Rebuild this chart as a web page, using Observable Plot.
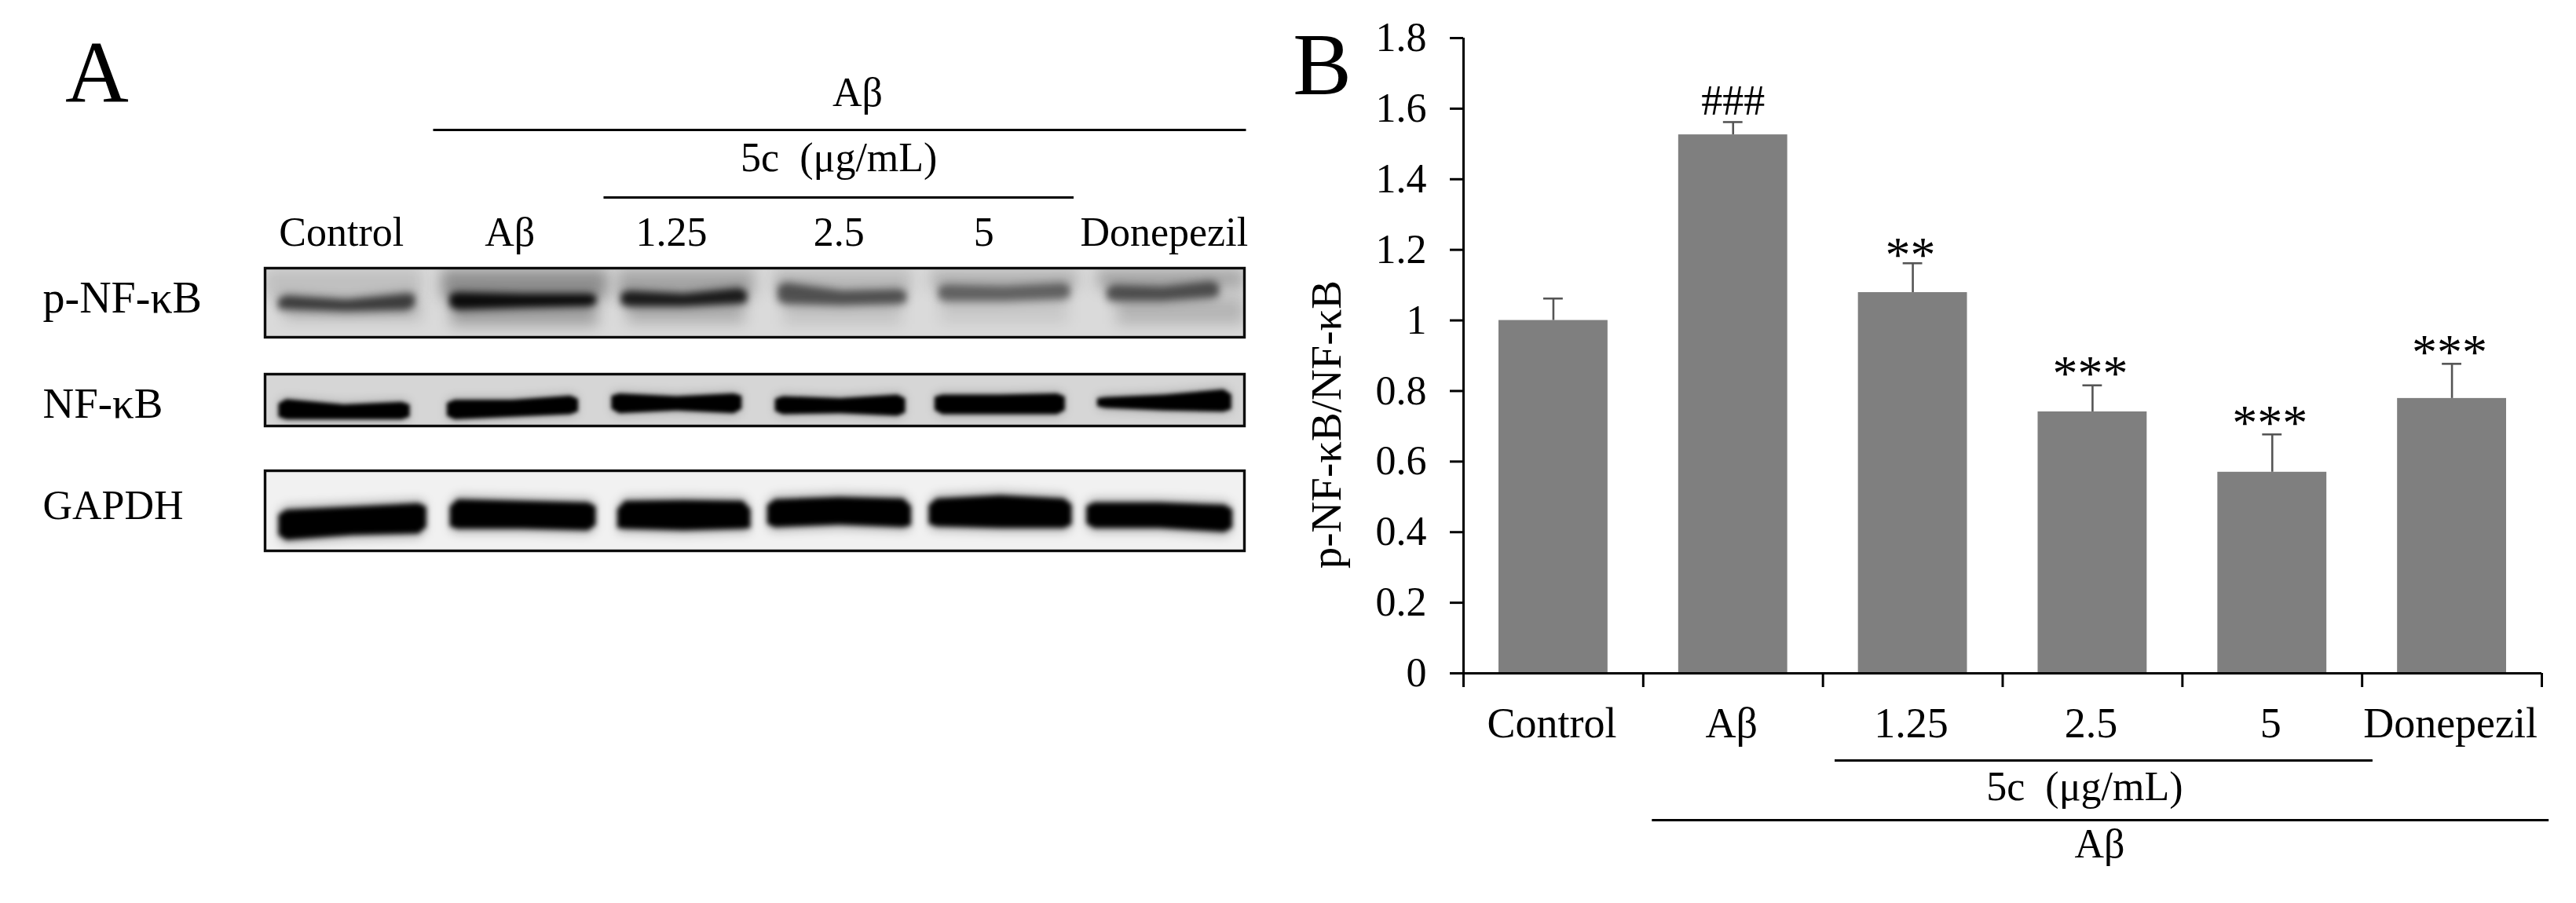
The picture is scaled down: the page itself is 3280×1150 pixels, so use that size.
<!DOCTYPE html>
<html>
<head>
<meta charset="utf-8">
<script src="https://cdn.jsdelivr.net/npm/d3@7"></script>
<script src="https://cdn.jsdelivr.net/npm/@observablehq/plot@0.6"></script>
<style>
html,body{margin:0;padding:0;background:#fff;overflow:hidden}
#page{position:relative;width:3280px;height:1150px;overflow:hidden}
</style>
</head>
<body>
<div id="page"></div>
<script>
// ---------- Panel B values ----------
const categories = ["Control", "Aβ", "1.25", "2.5", "5", "Donepezil"];
const ratioValues = [1.0, 1.526, 1.079, 0.741, 0.57, 0.779];
const errorTops = [1.062, 1.562, 1.162, 0.816, 0.677, 0.877];
const significance = ["", "###", "**", "***", "***", "***"];
const yTicks = [0, 0.2, 0.4, 0.6, 0.8, 1, 1.2, 1.4, 1.6, 1.8];

// ---------- Panel A lanes (percent of gel width) ----------
const laneCentres = [7.8, 25, 41.5, 58.6, 73.4, 91.8];

// p-NF-κB bands (percent of the gel box)
const pStart = [1.4, 18.9, 36.4, 52.4, 68.8, 86];
const pEnd = [15.3, 33.8, 49.2, 65.5, 82.2, 97.4];
const pTop = [[50,43,49,40,42],[43,38,40,40,44],[42,36,40,32,40],[32,25,36,34,38],[33,28,30,26,32],[35,28,30,23,28]];
const pBottom = [[54,57,60,58,52],[51,58,55,53,48],[47,53,53,49,44],[42,49,51,49,46],[40,45,45,42,36],[40,45,45,40,36]];
const pDark = [0.58, 0.9, 0.8, 0.46, 0.34, 0.46];
// diffuse smears around the p-NF-κB bands: x1, x2, y1, y2, strength
const pSmear = [
  [0,16,2,45,0.12],[18,35,2,45,0.34],[36,50,2,42,0.24],[52,66,2,36,0.14],[68,83,2,32,0.17],[85,100,2,30,0.24],
  [2,16,50,76,0.14],[19,34,50,84,0.26],[37,49,48,80,0.2],[53,65,46,82,0.1],[69,82,42,80,0.08],[87,100,42,82,0.17]
];

// NF-κB bands
const nfStart = [1.4, 18.6, 35.4, 52.1, 68.4, 85];
const nfEnd = [14.8, 32, 48.7, 65.4, 81.7, 98.7];
const nfTop = [[68,52,62,57,68],[66,53,53,45,58],[53,41,46,41,53],[58,46,50,43,60],[55,43,43,41,55],[53,48,43,33,50]];
const nfBottom = [[72,85,85,85,74],[71,85,80,75,63],[57,73,68,73,57],[62,75,73,78,62],[59,75,75,75,59],[57,63,68,70,58]];

// GAPDH bands
const gStart = [1.4, 18.9, 36, 51.3, 67.8, 83.9];
const gEnd = [16.5, 33.8, 49.6, 66, 82.4, 98.8];
const gTop = [[57,52,48,44,49],[49,39,41,43,47],[54,41,40,41,54],[49,39,36,38,51],[49,38,34,38,49],[49,43,43,46,54]];
const gBottom = [[79,84,78,76,67],[66,70,70,72,66],[66,70,72,70,66],[61,68,65,68,62],[61,67,69,69,61],[62,69,69,74,66]];

const serif = "'Liberation Serif','Times New Roman',serif";
const page = document.getElementById("page");

// ---------- helpers ----------
function bandPoints(start, end, top, bottom, grow = 0) {
  const mid = (start + end) / 2;
  const xs = [start, start + 0.8, mid, end - 0.8, end];
  const endHalf = (t, b, near) => [(t + b) / 2 - near, (t + b) / 2 + near];
  const [t0, b0] = endHalf(top[0], bottom[0], (bottom[1] - top[1]) * 0.3);
  const [t4, b4] = endHalf(top[4], bottom[4], (bottom[3] - top[3]) * 0.3);
  const t = [t0, top[1], top[2], top[3], t4];
  const b = [b0, bottom[1], bottom[2], bottom[3], b4];
  return xs.map((x, i) => ({x, y1: t[i] - grow, y2: b[i] + grow}));
}

function blot({top, height, background, start, end, tops, bottoms, dark, grow, coreGrow, haloOpacity, blur, smear = []}) {
  const marks = [Plot.frame({fill: background})];
  smear.forEach(s => marks.push(Plot.rect([s], {
    x1: d => d[0], x2: d => d[1], y1: d => d[2], y2: d => d[3],
    fill: "#000", fillOpacity: s[4], imageFilter: "blur(9px)"
  })));
  start.forEach((s, i) => {
    const op = dark ? dark[i] : 1;
    if (haloOpacity) {
      marks.push(Plot.areaY(bandPoints(s, end[i], tops[i], bottoms[i], grow), {
        x: "x", y1: "y1", y2: "y2", fill: "#000", fillOpacity: haloOpacity,
        imageFilter: "blur(6px)"
      }));
    }
    marks.push(Plot.areaY(bandPoints(s, end[i], tops[i], bottoms[i], coreGrow), {
      x: "x", y1: "y1", y2: "y2", fill: "#000", fillOpacity: op,
      imageFilter: `blur(${blur}px)`
    }));
  });
  marks.push(Plot.frame({stroke: "#0c0c0c", strokeWidth: 3.4}));
  const svg = Plot.plot({
    width: 1251, height: height + 4,
    marginLeft: 2, marginRight: 2, marginTop: 2, marginBottom: 2,
    clip: "frame",
    x: {domain: [0, 100], axis: null},
    y: {domain: [0, 100], reverse: true, axis: null},
    style: {position: "absolute", left: "335px", top: top - 2 + "px", maxWidth: "none", background: "transparent", overflow: "visible"},
    marks
  });
  page.appendChild(svg);
}

// ---------- Panel A: blots ----------
blot({top: 341, height: 88, background: "#dadada", start: pStart, end: pEnd, tops: pTop, bottoms: pBottom,
      dark: pDark, grow: 7, coreGrow: 2, haloOpacity: 0.26, blur: 4, smear: pSmear});
blot({top: 476, height: 66, background: "#d6d6d6", start: nfStart, end: nfEnd, tops: nfTop, bottoms: nfBottom,
      grow: 8, coreGrow: 3, haloOpacity: 0.18, blur: 2.6});
blot({top: 599, height: 102, background: "#f1f1f1", start: gStart, end: gEnd, tops: gTop, bottoms: gBottom,
      grow: 9, coreGrow: 3, haloOpacity: 0.22, blur: 3.4});

// ---------- Panel A: labels and brackets ----------
page.appendChild(Plot.plot({
  width: 1640, height: 750,
  marginLeft: 0, marginRight: 0, marginTop: 0, marginBottom: 0,
  x: {domain: [0, 100], range: [337, 1584], axis: null},
  y: {domain: [0, 750], range: [0, 750], axis: null},
  style: {position: "absolute", left: "0", top: "0", maxWidth: "none", background: "transparent",
          fontFamily: serif, overflow: "visible"},
  marks: [
    Plot.ruleY([165], {x1: 17.2, x2: 100.2, stroke: "#000", strokeWidth: 3}),
    Plot.ruleY([251], {x1: 34.6, x2: 82.6, stroke: "#000", strokeWidth: 3}),
    Plot.text(["Aβ"], {x: 60.5, y: 118, fontSize: 52, fill: "#000"}),
    Plot.text(["5c  (μg/mL)"], {x: 58.6, y: 201, fontSize: 52, fill: "#000"}),
    Plot.text(categories, {x: (d, i) => laneCentres[i], y: 296, fontSize: 52, fill: "#000"}),
    Plot.text(["p-NF-κB"], {y: 380, frameAnchor: "left", dx: 54, textAnchor: "start", fontSize: 56, fill: "#000"}),
    Plot.text(["NF-κB"], {y: 514, frameAnchor: "left", dx: 54, textAnchor: "start", fontSize: 55, fill: "#000"}),
    Plot.text(["GAPDH"], {y: 644, frameAnchor: "left", dx: 54, textAnchor: "start", fontSize: 52, fill: "#000"}),
    Plot.text(["A"], {frameAnchor: "top-left", dx: 123, dy: 50, textAnchor: "middle", fontSize: 112, fill: "#000"})
  ]
}));

// ---------- Panel B ----------
const rows = categories.map((name, i) => ({
  name, i, value: ratioValues[i], top: errorTops[i], mark: significance[i]
}));
const boundaries = d3.range(categories.length + 1);

page.appendChild(Plot.plot({
  width: 1640, height: 1150,
  marginLeft: 223, marginRight: 44, marginTop: 48, marginBottom: 293,
  x: {domain: [0, 6], axis: null},
  y: {domain: [0, 1.8], axis: null},
  style: {position: "absolute", left: "1640px", top: "0", maxWidth: "none", background: "transparent",
          fontFamily: serif, overflow: "visible"},
  marks: [
    Plot.rectY(rows, {x1: "i", x2: d => d.i + 1, y1: 0, y2: "value", fill: "#7f7f7f", insetLeft: 45, insetRight: 45}),
    Plot.ruleX(rows, {x: d => d.i + 0.5, y1: "value", y2: "top", stroke: "#555", strokeWidth: 2.6}),
    Plot.ruleY(rows, {y: "top", x1: "i", x2: d => d.i + 1, insetLeft: 102, insetRight: 102, stroke: "#555", strokeWidth: 2.6}),
    Plot.ruleX([0], {y1: 0, y2: 1.8, stroke: "#000", strokeWidth: 3}),
    Plot.ruleY([0], {x1: 0, x2: 6, stroke: "#000", strokeWidth: 3}),
    Plot.axisY({ticks: yTicks, tickSize: 17, tickPadding: 30, strokeWidth: 3, stroke: "#000", color: "#000",
                tickFormat: d => String(d), fontSize: 52, label: null, fill: "#000"}),
    Plot.axisX({ticks: boundaries, tickSize: 18, strokeWidth: 3, stroke: "#000", tickFormat: () => "", label: null}),
    Plot.text(rows.filter(d => d.mark === "###"), {x: d => d.i + 0.5, y: "top", text: "mark", dy: -27, fontSize: 54, fill: "#000"}),
    Plot.text(rows.filter(d => d.mark === "**"), {x: d => d.i + 0.5, y: "top", text: "mark", dx: -3, dy: -10, fontSize: 64, fill: "#000"}),
    Plot.text(rows.filter(d => d.mark === "***"), {x: d => d.i + 0.5, y: "top", text: "mark", dx: -3, dy: -14, fontSize: 64, fill: "#000"}),
    Plot.text(rows, {x: d => d.i + 0.5, y: 0, text: "name", dx: -2, dy: 64, fontSize: 54, fill: "#000"}),
    Plot.ruleY([0], {x1: 2.067, x2: 5.06, dy: 111, stroke: "#000", strokeWidth: 3}),
    Plot.ruleY([0], {x1: 1.05, x2: 6.04, dy: 187, stroke: "#000", strokeWidth: 3}),
    Plot.text(["5c  (μg/mL)"], {x: 3.5, y: 0, dx: -10, dy: 145, fontSize: 52, fill: "#000"}),
    Plot.text(["Aβ"], {x: 3.5, y: 0, dx: 9, dy: 218, fontSize: 52, fill: "#000"}),
    Plot.text(["p-NF-κB/NF-κB"], {x: 0, y: 0.705, dx: -174, rotate: -90, fontSize: 55, fill: "#000"}),
    Plot.text(["B"], {frameAnchor: "top-left", dx: -180, dy: -8, textAnchor: "middle", fontSize: 112, fill: "#000"})
  ]
}));
</script>
</body>
</html>
